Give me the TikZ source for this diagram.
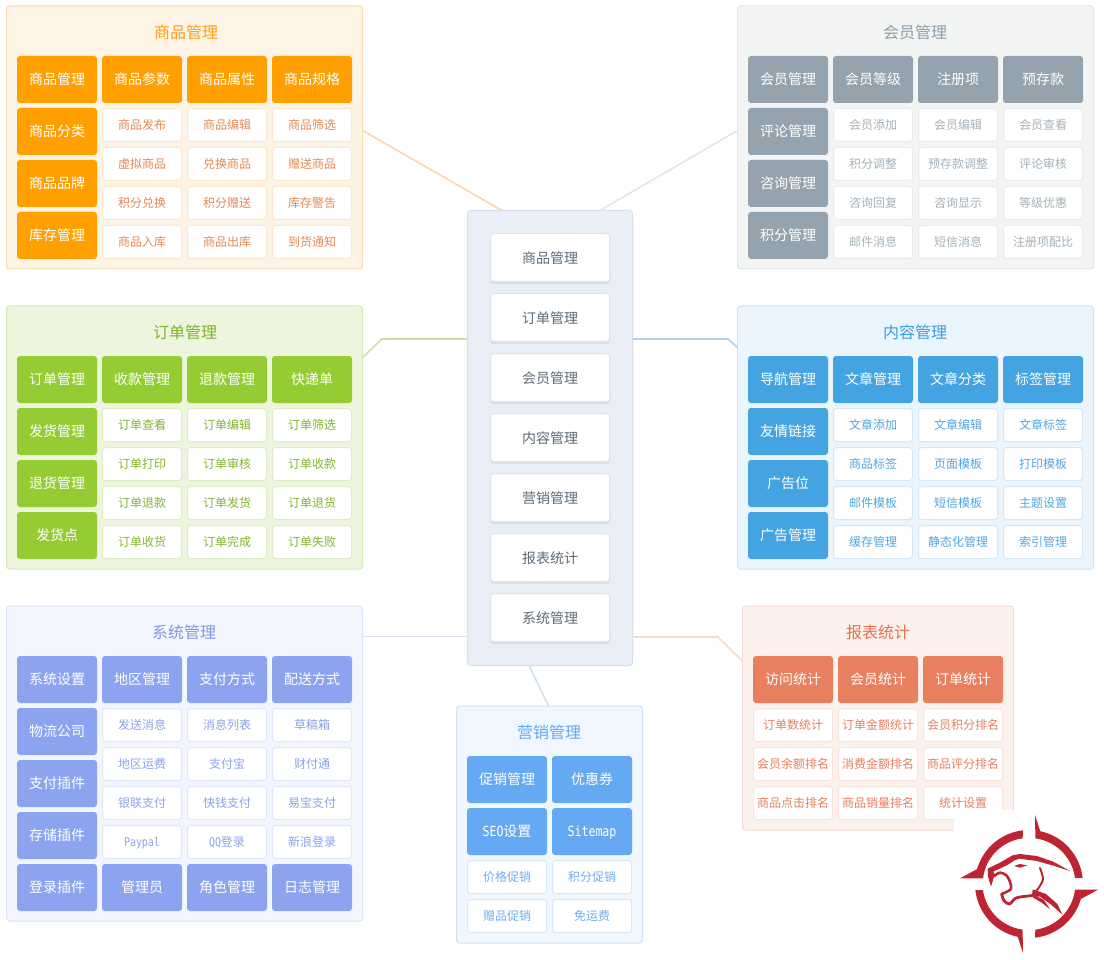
\documentclass[tikz,border=0pt]{standalone}
\usepackage{fontspec}
\setmainfont{Noto Sans CJK SC}
\newfontfamily\monoL[FakeStretch=0.83]{DejaVu Sans Mono}
\newcommand\hdM[1]{{\fontsize{14pt}{16pt}\monoL #1}}
\newcommand\smM[1]{{\fontsize{12pt}{14pt}\monoL #1}}
\definecolor{ghd}{HTML}{FF9F00}\definecolor{gfl}{HTML}{FEF4E5}\definecolor{gbd}{HTML}{F8DDB6}\definecolor{gsb}{HTML}{FDE8CC}\definecolor{gtx}{HTML}{E58A55}\definecolor{gti}{HTML}{FF9F1A}\definecolor{glk}{HTML}{FBD8AE}
\definecolor{mhd}{HTML}{94A3AD}\definecolor{mfl}{HTML}{F3F5F5}\definecolor{mbd}{HTML}{E1E5E8}\definecolor{msb}{HTML}{E9ECEE}\definecolor{mtx}{HTML}{A5B1B9}\definecolor{mti}{HTML}{8E9DA7}\definecolor{mlk}{HTML}{E3E6EB}
\definecolor{ohd}{HTML}{95CC33}\definecolor{ofl}{HTML}{EDF5DF}\definecolor{obd}{HTML}{D8E8BB}\definecolor{osb}{HTML}{DFEDC6}\definecolor{otx}{HTML}{84B52F}\definecolor{oti}{HTML}{7CB52C}\definecolor{olk}{HTML}{CBE3A5}
\definecolor{chd}{HTML}{44A4E2}\definecolor{cfl}{HTML}{EBF5FD}\definecolor{cbd}{HTML}{CFE3F5}\definecolor{csb}{HTML}{D5E8F7}\definecolor{ctx}{HTML}{52A6E0}\definecolor{cti}{HTML}{3D9CDC}\definecolor{clk}{HTML}{AFCFF2}
\definecolor{shd}{HTML}{8CA4F0}\definecolor{sfl}{HTML}{F3F6FE}\definecolor{sbd}{HTML}{DEE5F8}\definecolor{ssb}{HTML}{E0E7FA}\definecolor{stx}{HTML}{8DA3E8}\definecolor{sti}{HTML}{7F98E6}\definecolor{slk}{HTML}{DDE3F5}
\definecolor{yhd}{HTML}{64A9F2}\definecolor{yfl}{HTML}{F0F7FE}\definecolor{ybd}{HTML}{CFE2F5}\definecolor{ysb}{HTML}{D8E8F9}\definecolor{ytx}{HTML}{70AEEF}\definecolor{yti}{HTML}{64A9F2}\definecolor{ylk}{HTML}{CFE2F5}
\definecolor{rhd}{HTML}{E87F5E}\definecolor{rfl}{HTML}{FCF1ED}\definecolor{rbd}{HTML}{F5DCD2}\definecolor{rsb}{HTML}{F9E4DC}\definecolor{rtx}{HTML}{E67F5C}\definecolor{rti}{HTML}{E5714D}\definecolor{rlk}{HTML}{F2DAD0}
\definecolor{cenfl}{HTML}{EAEEF6}\definecolor{cenbd}{HTML}{D8DFE8}\definecolor{celbd}{HTML}{DFE3EA}\definecolor{celsh}{HTML}{DADFE8}\definecolor{celtx}{HTML}{5D6B78}
\definecolor{logored}{HTML}{BE2533}
\colorlet{curHd}{ghd}\colorlet{curFl}{gfl}\colorlet{curBd}{gbd}\colorlet{curSb}{gsb}\colorlet{curTx}{gtx}\colorlet{curTi}{gti}
\newcommand\UseSet[1]{\colorlet{curHd}{#1hd}\colorlet{curFl}{#1fl}\colorlet{curBd}{#1bd}\colorlet{curSb}{#1sb}\colorlet{curTx}{#1tx}\colorlet{curTi}{#1ti}}
\newcommand\Cells[3]{\foreach \tx/\cx/\cy [count=\n] in {#3} {\node[#2] (#1\n) at (\cx,\cy) {\tx};}}
\tikzset{
 panelbox/.style={draw=curBd,fill=curFl,rounded corners=3pt,line width=1pt,anchor=north west,inner sep=0pt,outer sep=0pt},
 titletext/.style={text=curTi,font=\fontsize{16pt}{18pt}\selectfont,inner sep=0pt},
 headcell/.style={fill=curHd,text=white,rounded corners=3pt,minimum width=80pt,minimum height=47pt,anchor=north west,inner sep=0pt,outer sep=0pt,text height=12.3pt,text depth=1.7pt,font=\fontsize{14pt}{16pt}\selectfont},
 subcell/.style={draw=curSb,fill=white,text=curTx,rounded corners=3pt,line width=1pt,minimum width=79pt,minimum height=33pt,anchor=north west,inner sep=0pt,outer sep=0pt,xshift=.5pt,yshift=-.5pt,text height=10.5pt,text depth=1.5pt,font=\fontsize{12pt}{14pt}\selectfont},
 centerbox/.style={draw=cenbd,fill=cenfl,rounded corners=3pt,line width=1pt,minimum width=165pt,minimum height=455pt,anchor=north west,inner sep=0pt,outer sep=0pt},
 centercell/.style={draw=celbd,fill=white,text=celtx,rounded corners=3pt,line width=1pt,minimum width=119pt,minimum height=48pt,anchor=north west,inner sep=0pt,outer sep=0pt,text height=14.3pt,text depth=1.7pt,font=\fontsize{14pt}{16pt}\selectfont},
 cellshadow/.style={fill=celsh,rounded corners=3pt},
 link/.style={line width=1.6pt},
}
\begin{document}
\begin{tikzpicture}[x=1pt,y=-1pt]
\useasboundingbox (0,0) rectangle (1104,960);
\fill[white] (0,0) rectangle (1104,960);
% ---------- goods
\UseSet{g}
\node[panelbox,minimum width=356pt,minimum height=263pt] (pGoods) at (6.5,6) {};
\node[titletext] (tGoods) at (186,32) {商品管理};
\Cells{gh}{headcell}{商品管理/17/56,商品参数/102/56,商品属性/187/56,商品规格/272/56,商品分类/17/108,商品品牌/17/160,库存管理/17/212}
\Cells{gs}{subcell}{商品发布/102/108,商品编辑/187/108,商品筛选/272/108,虚拟商品/102/147,兑换商品/187/147,赠送商品/272/147,积分兑换/102/186,积分赠送/187/186,库存警告/272/186,商品入库/102/225,商品出库/187/225,到货通知/272/225}
% ---------- members
\UseSet{m}
\node[panelbox,minimum width=356pt,minimum height=263pt] (pMember) at (737.5,6) {};
\node[titletext] (tMember) at (915,32) {会员管理};
\Cells{mh}{headcell}{会员管理/748/56,会员等级/833/56,注册项/918/56,预存款/1003/56,评论管理/748/108,咨询管理/748/160,积分管理/748/212}
\Cells{ms}{subcell}{会员添加/833/108,会员编辑/918/108,会员查看/1003/108,积分调整/833/147,预存款调整/918/147,评论审核/1003/147,咨询回复/833/186,咨询显示/918/186,等级优惠/1003/186,邮件消息/833/225,短信消息/918/225,注册项配比/1003/225}
% ---------- orders
\UseSet{o}
\node[panelbox,minimum width=356pt,minimum height=263pt] (pOrder) at (6.5,306) {};
\node[titletext] (tOrder) at (185,332) {订单管理};
\Cells{oh}{headcell}{订单管理/17/356,收款管理/102/356,退款管理/187/356,快递单/272/356,发货管理/17/408,退货管理/17/460,发货点/17/512}
\Cells{os}{subcell}{订单查看/102/408,订单编辑/187/408,订单筛选/272/408,订单打印/102/447,订单审核/187/447,订单收款/272/447,订单退款/102/486,订单发货/187/486,订单退货/272/486,订单收货/102/525,订单完成/187/525,订单失败/272/525}
% ---------- content
\UseSet{c}
\node[panelbox,minimum width=356pt,minimum height=263pt] (pContent) at (737.5,306) {};
\node[titletext] (tContent) at (915,332) {内容管理};
\Cells{ch}{headcell}{导航管理/748/356,文章管理/833/356,文章分类/918/356,标签管理/1003/356,友情链接/748/408,广告位/748/460,广告管理/748/512}
\Cells{cs}{subcell}{文章添加/833/408,文章编辑/918/408,文章标签/1003/408,商品标签/833/447,页面模板/918/447,打印模板/1003/447,邮件模板/833/486,短信模板/918/486,主题设置/1003/486,缓存管理/833/525,静态化管理/918/525,索引管理/1003/525}
% ---------- system
\UseSet{s}
\node[panelbox,minimum width=356pt,minimum height=315pt] (pSystem) at (6.5,606) {};
\node[titletext] (tSystem) at (184,632) {系统管理};
\Cells{sh}{headcell}{系统设置/17/656,地区管理/102/656,支付方式/187/656,配送方式/272/656,物流公司/17/708,支付插件/17/760,存储插件/17/812,登录插件/17/864,管理员/102/864,角色管理/187/864,日志管理/272/864}
\Cells{ss}{subcell}{发送消息/102/708,消息列表/187/708,草稿箱/272/708,地区运费/102/747,支付宝/187/747,财付通/272/747,银联支付/102/786,快钱支付/187/786,易宝支付/272/786,\smM{Paypal}/102/825,\smM{QQ}登录/187/825,新浪登录/272/825}
% ---------- marketing
\UseSet{y}
\node[panelbox,minimum width=186pt,minimum height=237pt] (pMarket) at (456.5,706) {};
\node[titletext] (tMarket) at (549,732) {营销管理};
\Cells{yh}{headcell}{促销管理/467/756,优惠券/552/756,\hdM{SEO}设置/467/808,\hdM{Sitemap}/552/808}
\Cells{ys}{subcell}{价格促销/467/860,积分促销/552/860,赠品促销/467/899,免运费/552/899}
% ---------- reports
\UseSet{r}
\node[panelbox,minimum width=271pt,minimum height=224pt] (pReport) at (742.5,606) {};
\node[titletext] (tReport) at (878,632) {报表统计};
\Cells{rh}{headcell}{访问统计/753/656,会员统计/838/656,订单统计/923/656}
\Cells{rs}{subcell}{订单数统计/753/708,订单金额统计/838/708,会员积分排名/923/708,会员余额排名/753/747,消费金额排名/838/747,商品评分排名/923/747,商品点击排名/753/786,商品销量排名/838/786,统计设置/923/786}
% ---------- centre
\node[centerbox] (centre) at (467.5,210.5) {};
\foreach \tx/\cy [count=\n] in {商品管理/233.5,订单管理/293.5,会员管理/353.5,内容管理/413.5,营销管理/473.5,报表统计/533.5,系统管理/593.5}{
  \fill[cellshadow] (490,\cy) rectangle (610,\cy+50.5);
  \node[centercell] (cc\n) at (490.5,\cy) {\tx};
}
% ---------- connectors
\draw[link,draw=glk] ([yshift=7pt]pGoods.east) -- ([xshift=-48pt]centre.north);
\draw[link,draw=mlk] ([yshift=7pt]pMember.west) -- ([xshift=50pt]centre.north);
\coordinate (kOrder) at (382,339);
\coordinate (kContent) at (728,339);
\coordinate (kReport) at (718,637);
\draw[link,draw=olk] ([yshift=80pt]pOrder.east) -- (kOrder) -- (kOrder -| centre.west);
\draw[link,draw=clk] (kContent -| centre.east) -- (kContent) -- ([yshift=90pt]pContent.west);
\draw[link,draw=slk] ([yshift=127pt]pSystem.east) -- ([yshift=127pt]pSystem.east -| centre.west);
\draw[link,draw=rlk] (kReport -| centre.east) -- (kReport) -- ([yshift=57pt]pReport.west);
\draw[link,draw=ylk] ([xshift=-21pt]centre.south) -- ([xshift=-1pt]pMarket.north);
% ---------- logo
\fill[white] (954,810) rectangle (1015,832);
\begin{scope}[shift={(1029,884)},y=1pt,fill=logored]
  \fill (-6,53.7) arc (96.4:164:54pt) -- (-69,5.7) -- (-46,5.7) arc (173:97.5:46pt) -- cycle;
  \fill (6,69) -- (78:54) arc (78:6.4:54pt) -- (46,6) arc (7.5:82.5:46pt) -- cycle;
  \begin{scope}[rotate=180]
    \fill (-6,53.7) arc (96.4:164:54pt) -- (-69,5.7) -- (-46,5.7) arc (173:97.5:46pt) -- cycle;
    \fill (6,69) -- (78:54) arc (78:6.4:54pt) -- (46,6) arc (7.5:82.5:46pt) -- cycle;
  \end{scope}
\end{scope}
\begin{scope}[shift={(920,780)},x=.3333pt,y=-.3333pt]
  \fill[logored] (203,266) -- (240,248) -- (278,226) -- (300,222) -- (350,228) -- (400,245) -- (450,273) -- (400,257) -- (350,243) -- (298,236) -- (284,241) -- (262,255) -- (235,268) -- (220,274) -- (224,284) -- (213,320) -- (204,290) -- cycle;
  \fill[logored] (282,258) -- (300,252) -- (322,256) -- (300,263) -- cycle;
  \draw[logored,line width=2.6pt,line join=round,line cap=round] plot[smooth] coordinates {(222,288) (240,278) (258,285) (270,305) (272,328) (245,342)};
  \draw[logored,line width=2.8pt,line join=round,line cap=round] plot[smooth] coordinates {(245,342) (252,362) (268,372) (285,356) (300,351) (335,347)};
  \draw[logored,line width=2pt,line join=round,line cap=round] plot[smooth] coordinates {(335,347) (355,325) (369,297) (360,264)};
  \fill[logored] (338,328) -- (378,342) -- (412,372) -- (428,405) -- (395,375) -- (360,350) -- (336,350) -- cycle;
  \fill[logored] (342,345) -- (372,360) -- (390,388) -- (365,368) -- (338,352) -- cycle;
\end{scope}
\end{tikzpicture}
\end{document}
